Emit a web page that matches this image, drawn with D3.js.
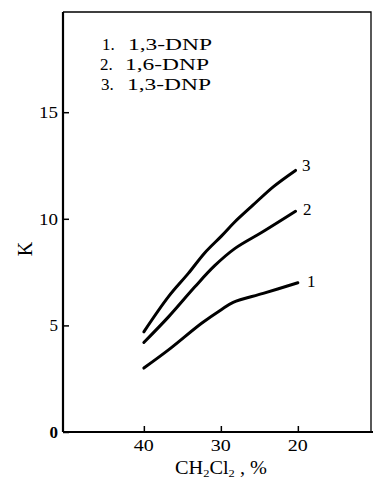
<!DOCTYPE html>
<html>
<head>
<meta charset="utf-8">
<script src="https://cdn.jsdelivr.net/npm/d3@7"></script>
<style>
  body { margin: 0; background: #fff; }
  svg text { font-family: "Liberation Serif", "DejaVu Serif", serif; fill: #000; }
</style>
</head>
<body>
<div id="chart"></div>
<script>
// CH2Cl2 content (%) and distribution coefficient K
const xVals1 = [40, 36.8, 32.5, 29.9, 28.4, 24.5, 20];
const k1 = [3.0, 3.85, 5.1, 5.75, 6.08, 6.5, 7.0];
const xVals2 = [40, 36.8, 33.4, 30.8, 28.2, 24.5, 20.3];
const k2 = [4.2, 5.4, 6.8, 7.8, 8.6, 9.4, 10.35];
const xVals3 = [40, 36.8, 34.2, 32.1, 29.9, 28.2, 25.8, 23.2, 20.3];
const k3 = [4.7, 6.35, 7.45, 8.4, 9.2, 9.85, 10.65, 11.5, 12.27];
const seriesNames = ["1", "2", "3"];
const legendLabels = ["1,3-DNP", "1,6-DNP", "1,3-DNP"];
const xTicks = [40, 30, 20];
const yTicks = [0, 5, 10, 15];

const width = 373, height = 479;
const m = { left: 63, right: 371, top: 12, bottom: 432 };

const svg = d3.select("#chart").append("svg")
    .attr("width", width)
    .attr("height", height);

const x = d3.scaleLinear().domain([50.5, 10.5]).range([m.left, m.right]);
const y = d3.scaleLinear().domain([0, 19.7]).range([m.bottom, m.top]);

// frame (top + right)
svg.append("path")
    .attr("d", `M${m.left},${m.top}H${m.right}V${m.bottom}`)
    .attr("fill", "none")
    .attr("stroke", "#000")
    .attr("stroke-width", 1.3);

// axes with inward ticks
const yAxis = svg.append("g")
    .attr("transform", `translate(${m.left},0)`)
    .call(d3.axisRight(y).tickValues(yTicks).tickSize(6).tickFormat(""));
yAxis.select(".domain").remove();
yAxis.selectAll("line").attr("stroke-width", 1.5);

const xAxis = svg.append("g")
    .attr("transform", `translate(0,${m.bottom})`)
    .call(d3.axisTop(x).tickValues(xTicks).tickSize(6).tickFormat(""));
xAxis.select(".domain").remove();
xAxis.selectAll("line").attr("stroke-width", 1.5);

svg.append("line")
    .attr("x1", m.left).attr("x2", m.left).attr("y1", m.top).attr("y2", m.bottom)
    .attr("stroke", "#000").attr("stroke-width", 2.2);
svg.append("line")
    .attr("x1", m.left).attr("x2", m.right + 2).attr("y1", m.bottom).attr("y2", m.bottom)
    .attr("stroke", "#000").attr("stroke-width", 2.2);

// tick labels
svg.selectAll(".ylab").data(yTicks).enter().append("text")
    .attr("class", "ylab")
    .attr("x", m.left - 5)
    .attr("y", d => y(d) + 6)
    .attr("text-anchor", "end")
    .style("font-size", "17px")
    .style("font-weight", d => d === 0 ? "bold" : "normal")
    .attr("textLength", d => d >= 10 ? 19 : null)
    .attr("lengthAdjust", "spacingAndGlyphs")
    .text(d => d);

svg.selectAll(".xlab").data(xTicks).enter().append("text")
    .attr("class", "xlab")
    .attr("x", d => x(d))
    .attr("y", m.bottom + 19)
    .attr("text-anchor", "middle")
    .style("font-size", "17px")
    .attr("textLength", 20)
    .attr("lengthAdjust", "spacingAndGlyphs")
    .text(d => d);

// axis titles
svg.append("text")
    .attr("transform", `translate(32,249) rotate(-90)`)
    .attr("text-anchor", "middle")
    .style("font-size", "20px")
    .text("K");

const xt = svg.append("text")
    .attr("x", 221)
    .attr("y", 474)
    .attr("text-anchor", "middle")
    .style("font-size", "18px")
    .attr("textLength", 92)
    .attr("lengthAdjust", "spacingAndGlyphs");
xt.append("tspan").text("CH");
xt.append("tspan").attr("dy", 3).style("font-size", "11px").text("2");
xt.append("tspan").attr("dy", -3).text("Cl");
xt.append("tspan").attr("dy", 3).style("font-size", "11px").text("2");
xt.append("tspan").attr("dy", -3).text(" , %");

// curves
const series = [
  { name: seriesNames[0], pts: xVals1.map((v, i) => [v, k1[i]]), lx: 307, ly: 287 },
  { name: seriesNames[1], pts: xVals2.map((v, i) => [v, k2[i]]), lx: 303, ly: 215 },
  { name: seriesNames[2], pts: xVals3.map((v, i) => [v, k3[i]]), lx: 302, ly: 171 }
];

const line = d3.line()
    .x(d => x(d[0]))
    .y(d => y(d[1]))
    .curve(d3.curveCatmullRom.alpha(0.5));

svg.selectAll(".curve").data(series).enter().append("path")
    .attr("class", "curve")
    .attr("d", d => line(d.pts))
    .attr("fill", "none")
    .attr("stroke", "#000")
    .attr("stroke-width", 3)
    .attr("stroke-linecap", "round");

svg.selectAll(".curvelab").data(series).enter().append("text")
    .attr("class", "curvelab")
    .attr("x", d => d.lx)
    .attr("y", d => d.ly)
    .style("font-size", "17px")
    .text(d => d.name);

// legend
const numX = [102, 100, 101];
const nameX = [128, 125, 127];
const legend = svg.append("g");
legendLabels.forEach((lab, i) => {
  legend.append("text")
      .attr("x", numX[i])
      .attr("y", 50 + i * 20)
      .style("font-size", "17px")
      .text(seriesNames[i] + ".");
  legend.append("text")
      .attr("x", nameX[i])
      .attr("y", 50 + i * 20)
      .style("font-size", "17px")
      .attr("textLength", 84)
      .attr("lengthAdjust", "spacingAndGlyphs")
      .text(lab);
});
</script>
</body>
</html>
